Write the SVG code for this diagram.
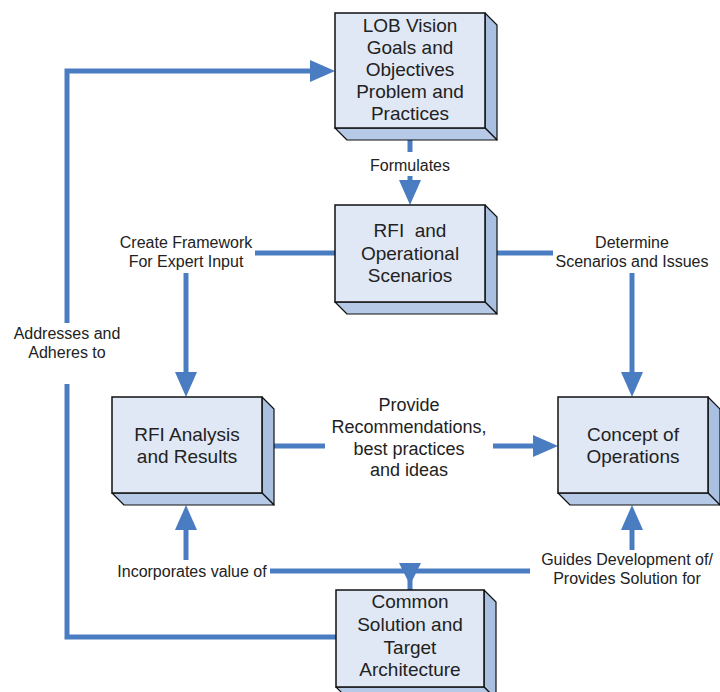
<svg xmlns="http://www.w3.org/2000/svg" width="720" height="692" viewBox="0 0 720 692">
<style>
.front{fill:#E0E8F5;stroke:#111;stroke-width:1.5}
.side{fill:#A9C0E0;stroke:#111;stroke-width:1.2;stroke-linejoin:round}
.bot{fill:#B6C9E6;stroke:#111;stroke-width:1.2;stroke-linejoin:round}
.bt{font-family:"Liberation Sans",Arial,sans-serif;font-size:19px;fill:#222;text-anchor:middle}
.lb{font-family:"Liberation Sans",Arial,sans-serif;font-size:16px;fill:#222;text-anchor:middle}
.lb18{font-family:"Liberation Sans",Arial,sans-serif;font-size:18px;fill:#222;text-anchor:middle}
.c{fill:none;stroke:#4A7CC2;stroke-width:5}
</style>
<defs>
<marker id="ah" markerUnits="userSpaceOnUse" markerWidth="26" markerHeight="22" viewBox="0 0 26 22" refX="1" refY="11" orient="auto">
<path d="M0,0 L25,11 L0,22 z" fill="#4A7CC2"/>
</marker>
</defs>
<rect width="720" height="692" fill="#fff"/>
<g id="connectors">
<path class="c" d="M410,128 V152"/>
<path class="c" d="M410,176 V181" marker-end="url(#ah)"/>
<path class="c" d="M335,253 H255"/>
<path class="c" d="M186,273 V373" marker-end="url(#ah)"/>
<path class="c" d="M485,253 H553"/>
<path class="c" d="M632,273 V373" marker-end="url(#ah)"/>
<path class="c" d="M262,446 H325"/>
<path class="c" d="M493,446 H534" marker-end="url(#ah)"/>
<path class="c" d="M270,571 H530"/>
<polygon points="399,563 421,563 410,585" fill="#4A7CC2"/>
<path class="c" d="M410,580 V590"/>
<path class="c" d="M186,560 V529" marker-end="url(#ah)"/>
<path class="c" d="M632,550 V529" marker-end="url(#ah)"/>
<path class="c" d="M336,637 H67 V384"/>
<path class="c" d="M67,323 V71 H311" marker-end="url(#ah)"/>
</g>
<g id="lob">
<polygon class="side" points="485,13 497,25 497,140 485,128"/>
<polygon class="bot" points="335,128 485,128 497,140 347,140"/>
<rect class="front" x="335" y="13" width="150" height="115"/>
<text class="bt" x="410" y="32">LOB Vision</text>
<text class="bt" x="410" y="54">Goals and</text>
<text class="bt" x="410" y="76">Objectives</text>
<text class="bt" x="410" y="98">Problem and</text>
<text class="bt" x="410" y="120">Practices</text>
</g>
<g id="rfi">
<polygon class="side" points="485,205 497,217 497,314 485,302"/>
<polygon class="bot" points="335,302 485,302 497,314 347,314"/>
<rect class="front" x="335" y="205" width="150" height="97"/>
<text class="bt" x="410" y="237" xml:space="preserve">RFI  and</text>
<text class="bt" x="410" y="260">Operational</text>
<text class="bt" x="410" y="282">Scenarios</text>
</g>
<g id="analysis">
<polygon class="side" points="262,397 274,409 274,505 262,493"/>
<polygon class="bot" points="112,493 262,493 274,505 124,505"/>
<rect class="front" x="112" y="397" width="150" height="96"/>
<text class="bt" x="187" y="441">RFI Analysis</text>
<text class="bt" x="187" y="463">and Results</text>
</g>
<g id="conops">
<polygon class="side" points="708,397 720,409 720,505 708,493"/>
<polygon class="bot" points="558,493 708,493 720,505 570,505"/>
<rect class="front" x="558" y="397" width="150" height="96"/>
<text class="bt" x="633" y="441">Concept of</text>
<text class="bt" x="633" y="463">Operations</text>
</g>
<g id="common">
<polygon class="side" points="484,590 496,602 496,699 484,687"/>
<polygon class="bot" points="336,687 484,687 496,699 348,699"/>
<rect class="front" x="336" y="590" width="148" height="97"/>
<text class="bt" x="410" y="608">Common</text>
<text class="bt" x="410" y="631">Solution and</text>
<text class="bt" x="410" y="654">Target</text>
<text class="bt" x="410" y="676">Architecture</text>
</g>
<g id="labels">
<text class="lb" x="410" y="171">Formulates</text>
<text class="lb" x="186" y="248">Create Framework</text>
<text class="lb" x="186" y="267">For Expert Input</text>
<text class="lb" x="632" y="248">Determine</text>
<text class="lb" x="632" y="267">Scenarios and Issues</text>
<text class="lb18" x="409" y="411">Provide</text>
<text class="lb18" x="409" y="433">Recommendations,</text>
<text class="lb18" x="409" y="455">best practices</text>
<text class="lb18" x="409" y="476">and ideas</text>
<text class="lb" x="67" y="339">Addresses and</text>
<text class="lb" x="67" y="358">Adheres to</text>
<text class="lb" x="192" y="577">Incorporates value of</text>
<text class="lb" x="627" y="565">Guides Development of/</text>
<text class="lb" x="627" y="584">Provides Solution for</text>
</g>
</svg>
